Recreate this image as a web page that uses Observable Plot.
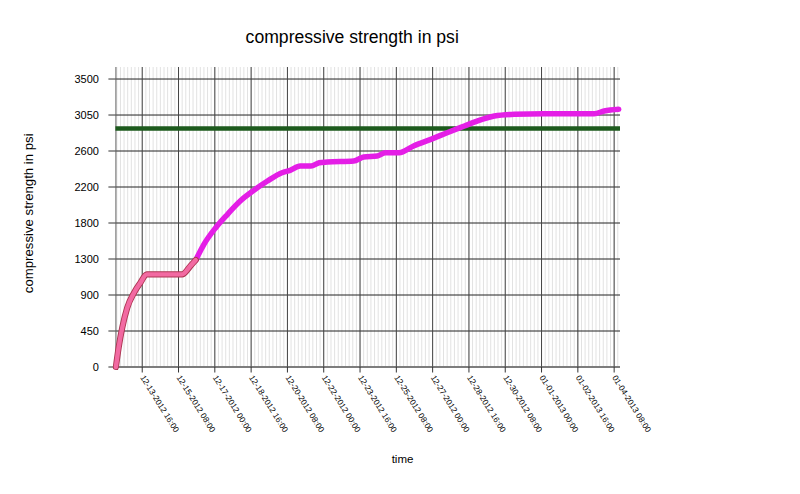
<!DOCTYPE html>
<html><head><meta charset="utf-8">
<script src="https://cdn.jsdelivr.net/npm/d3@7"></script>
<script src="https://cdn.jsdelivr.net/npm/@observablehq/plot@0.6"></script>
<style>body{margin:0;background:#fff;} #chart svg{display:block;}</style>
</head><body><div id="chart"></div>
<script>
// ---- data ----
const timeStamps = [
  "2012-12-12T11:00","2012-12-12T14:00","2012-12-12T18:00","2012-12-12T23:30",
  "2012-12-13T07:00","2012-12-13T14:00","2012-12-13T21:00","2012-12-15T12:00",
  "2012-12-15T21:00","2012-12-16T03:00",
  "2012-12-16T12:00","2012-12-17T01:00","2012-12-17T14:00","2012-12-18T04:00",
  "2012-12-18T19:00","2012-12-19T10:00","2012-12-20T02:00","2012-12-20T11:00",
  "2012-12-20T22:00","2012-12-21T10:00","2012-12-21T19:00","2012-12-22T04:00",
  "2012-12-23T09:00","2012-12-23T20:00","2012-12-24T11:00","2012-12-24T20:00",
  "2012-12-25T11:00","2012-12-26T03:00","2012-12-26T22:00","2012-12-27T16:00",
  "2012-12-28T11:00","2012-12-29T01:00","2012-12-29T20:00","2012-12-30T18:00",
  "2013-01-01T03:00","2013-01-03T10:00","2013-01-03T21:00","2013-01-04T13:00"
];
const strengthPsi = [
  0, 235, 478, 720,
  903, 1024, 1126, 1126,
  1227, 1300,
  1491, 1693, 1856, 2017,
  2147, 2260, 2361, 2390,
  2443, 2443, 2483, 2491,
  2503, 2552, 2564, 2604,
  2604, 2686, 2767, 2847,
  2929, 2989, 3050, 3071,
  3078, 3078, 3111, 3132
];
const earlyPointCount = 10;           // first part drawn pink with dark outline
const targetPsi = [2900];             // green reference line
const xTickLabels = [
  "12-13-2012 16:00","12-15-2012 08:00","12-17-2012 00:00","12-18-2012 16:00",
  "12-20-2012 08:00","12-22-2012 00:00","12-23-2012 16:00","12-25-2012 08:00",
  "12-27-2012 00:00","12-28-2012 16:00","12-30-2012 08:00","01-01-2013 00:00",
  "01-02-2013 16:00","01-04-2013 08:00"
];
const xDomainStamps = ["2012-12-12T11:00", "2013-01-04T15:00"];
const yTickValues = [0, 437.5, 875, 1312.5, 1750, 2187.5, 2625, 3062.5, 3500];
const yTickLabels = ["0","450","900","1300","1800","2200","2600","3050","3500"];
const yDomain = [0, 3640];
const titleText = "compressive strength in psi";
const yLabelText = "compressive strength in psi";
const xLabelText = "time";

// ---- build ----
const parseStamp = s => new Date(s + ":00Z");
const parseLabel = s => {
  const [d, t] = s.split(" ");
  const [mo, da, yr] = d.split("-").map(Number);
  const [hh, mm] = t.split(":").map(Number);
  return new Date(Date.UTC(yr, mo - 1, da, hh, mm));
};
const rows = timeStamps.map((s, i) => ({time: parseStamp(s), psi: strengthPsi[i]}));
const earlyRows = rows.slice(0, earlyPointCount);
const lateRows = rows.slice(earlyPointCount - 1);
const xTicks = xTickLabels.map(parseLabel);
const tickLabelByTime = new Map(xTicks.map((d, i) => [+d, xTickLabels[i]]));
const yLabelByValue = new Map(yTickValues.map((v, i) => [v, yTickLabels[i]]));
const xDomain = xDomainStamps.map(parseStamp);
const minorTimes = d3.utcHour.every(4).range(xDomain[0], xDomain[1]);

const font = "'Liberation Sans', Arial, sans-serif";

const chart = Plot.plot({
  width: 800,
  height: 494,
  marginLeft: 115.4,
  marginRight: 180,
  marginTop: 67,
  marginBottom: 127.5,
  style: {fontFamily: font, background: "#fff", color: "#000"},
  x: {type: "utc", domain: xDomain},
  y: {domain: yDomain},
  marks: [
    Plot.ruleX(minorTimes, {stroke: "#e2e2e2", strokeWidth: 1}),
    Plot.ruleY(yTickValues, {stroke: "#222", strokeWidth: 1}),
    Plot.ruleX(xTicks, {stroke: "#444", strokeWidth: 1}),
    Plot.ruleX([xDomain[0]], {stroke: "#666", strokeWidth: 1}),
    Plot.ruleY([0], {stroke: "#777", strokeWidth: 1.5}),
    Plot.axisY({
      ticks: yTickValues, tickSize: 7, tickPadding: 10, fontSize: 11,
      tickFormat: v => yLabelByValue.get(v), label: null, stroke: "#333"
    }),
    Plot.axisX({
      ticks: xTicks, tickSize: 6, tickPadding: 3, fontSize: 8.3, tickRotate: 58,
      tickFormat: d => tickLabelByTime.get(+d), label: null, stroke: "#333"
    }),
    Plot.ruleY(targetPsi, {stroke: "#1d5a1d", strokeWidth: 4.5}),
    Plot.line(lateRows, {x: "time", y: "psi", stroke: "#e41ee6", strokeWidth: 5.5,
      curve: "monotone-x", strokeLinejoin: "round", strokeLinecap: "round"}),
    Plot.line(earlyRows, {x: "time", y: "psi", stroke: "#ad3552", strokeWidth: 6.2,
      curve: "monotone-x", strokeLinejoin: "round", strokeLinecap: "round"}),
    Plot.line(earlyRows, {x: "time", y: "psi", stroke: "#f26aa2", strokeWidth: 4.4,
      curve: "monotone-x", strokeLinejoin: "round", strokeLinecap: "round"}),
    Plot.text([titleText], {frameAnchor: "top", lineAnchor: "middle", textAnchor: "middle",
      dx: -16, dy: -30.5, fontSize: 17.6, fill: "#000"}),
    Plot.text([yLabelText], {frameAnchor: "left", lineAnchor: "middle", textAnchor: "middle",
      dx: -87.4, dy: -4, rotate: -90, fontSize: 13.2, fill: "#000"}),
    Plot.text([xLabelText], {frameAnchor: "bottom", lineAnchor: "middle", textAnchor: "middle",
      dx: 34.3, dy: 92, fontSize: 11.5, fill: "#000"})
  ]
});
document.getElementById("chart").append(chart);
</script>
</body></html>
